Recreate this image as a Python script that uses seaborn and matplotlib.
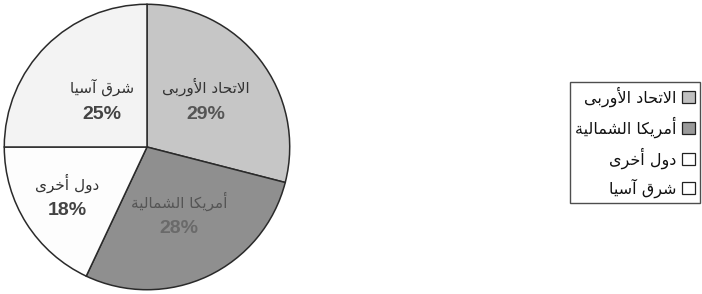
import matplotlib
matplotlib.use("Agg")
import matplotlib.pyplot as plt
import seaborn as sns
import numpy as np

# بيانات الشكل
regions = ["الاتحاد الأوربى", "أمريكا الشمالية", "دول أخرى", "شرق آسيا"]
shares = [29, 28, 18, 25]
slice_colors = ["#c6c6c6", "#8f8f8f", "#fdfdfd", "#f3f3f3"]
legend_colors = ["#c0c0c0", "#9a9a9a", "#ffffff", "#ffffff"]
pct_colors = ["#555555", "#6a6a6a", "#444444", "#444444"]
label_dist = [0.52, 0.53, 0.66, 0.45]

# matplotlib does no arabic shaping, so pick presentation forms by hand
# (isolated, final) for right-joining letters, (iso, fin, ini, med) for dual
FORMS = {
    "ا": ("\uFE8D", "\uFE8E"), "أ": ("\uFE83", "\uFE84"), "آ": ("\uFE81", "\uFE82"),
    "د": ("\uFEA9", "\uFEAA"), "ر": ("\uFEAD", "\uFEAE"), "و": ("\uFEED", "\uFEEE"),
    "ة": ("\uFE93", "\uFE94"), "ى": ("\uFEEF", "\uFEF0"),
    "ب": ("\uFE8F", "\uFE90", "\uFE91", "\uFE92"), "ت": ("\uFE95", "\uFE96", "\uFE97", "\uFE98"),
    "ح": ("\uFEA1", "\uFEA2", "\uFEA3", "\uFEA4"), "خ": ("\uFEA5", "\uFEA6", "\uFEA7", "\uFEA8"),
    "س": ("\uFEB1", "\uFEB2", "\uFEB3", "\uFEB4"), "ش": ("\uFEB5", "\uFEB6", "\uFEB7", "\uFEB8"),
    "ق": ("\uFED5", "\uFED6", "\uFED7", "\uFED8"), "ك": ("\uFED9", "\uFEDA", "\uFEDB", "\uFEDC"),
    "ل": ("\uFEDD", "\uFEDE", "\uFEDF", "\uFEE0"), "م": ("\uFEE1", "\uFEE2", "\uFEE3", "\uFEE4"),
    "ي": ("\uFEF1", "\uFEF2", "\uFEF3", "\uFEF4"),
    "لا": ("\uFEFB", "\uFEFC"), "لأ": ("\uFEF7", "\uFEF8"), "لآ": ("\uFEF5", "\uFEF6"),
}


def shape(text):
    toks = []
    i = 0
    while i < len(text):
        if text[i] == "ل" and i + 1 < len(text) and text[i + 1] in "اأآ":
            toks.append(text[i:i + 2])
            i += 2
        else:
            toks.append(text[i])
            i += 1
    out = []
    for k, t in enumerate(toks):
        f = FORMS.get(t)
        if f is None:
            out.append(t)
            continue
        prev = toks[k - 1] if k > 0 else None
        nxt = toks[k + 1] if k + 1 < len(toks) else None
        jp = prev in FORMS and len(FORMS[prev]) == 4
        jn = len(f) == 4 and nxt in FORMS
        if jp and jn:
            out.append(f[3])
        elif jp:
            out.append(f[1])
        elif jn:
            out.append(f[2])
        else:
            out.append(f[0])
    return "".join(reversed(out))


sns.set_theme(style="white")
plt.rcParams["font.family"] = ["DejaVu Sans"]

fig = plt.figure(figsize=(7.02, 2.94), dpi=100)
ax = fig.add_axes([0.0 / 702, 0.0, 294 / 702, 1.0])

wedges, _ = ax.pie(shares, colors=slice_colors, startangle=90, counterclock=False,
                   wedgeprops=dict(edgecolor="#2a2a2a", linewidth=1.1))
ax.set_xlim(-1.03, 1.03)
ax.set_ylim(-1.03, 1.03)

for w, name, pct, pc, d in zip(wedges, regions, shares, pct_colors, label_dist):
    mid = np.deg2rad((w.theta1 + w.theta2) / 2)
    x, y = d * np.cos(mid), d * np.sin(mid)
    ax.text(x, y + 0.1, shape(name), ha="center", va="center", fontsize=11,
            color="#333333" if pc != "#6a6a6a" else "#555555")
    ax.text(x, y - 0.09, f"{pct}%", ha="center", va="center", fontsize=14,
            fontweight="bold", color=pc, family="Liberation Sans")

handles = [plt.Rectangle((0, 0), 1, 1, facecolor=c, edgecolor="#222222", linewidth=0.9)
           for c in legend_colors]
leg = fig.legend(handles, [shape(r) for r in regions], loc="upper right",
                 bbox_to_anchor=(0.997, 0.722), markerfirst=False, fancybox=False,
                 frameon=True, fontsize=11.5, handlelength=0.8, handleheight=0.8,
                 handletextpad=0.35, labelspacing=0.6, borderpad=0.3, borderaxespad=0)
leg.get_frame().set_edgecolor("#222222")
leg.get_frame().set_linewidth(1.0)
for t in leg.get_texts():
    t.set_color("#111111")

fig.savefig("out.png", dpi=100, facecolor="white")
